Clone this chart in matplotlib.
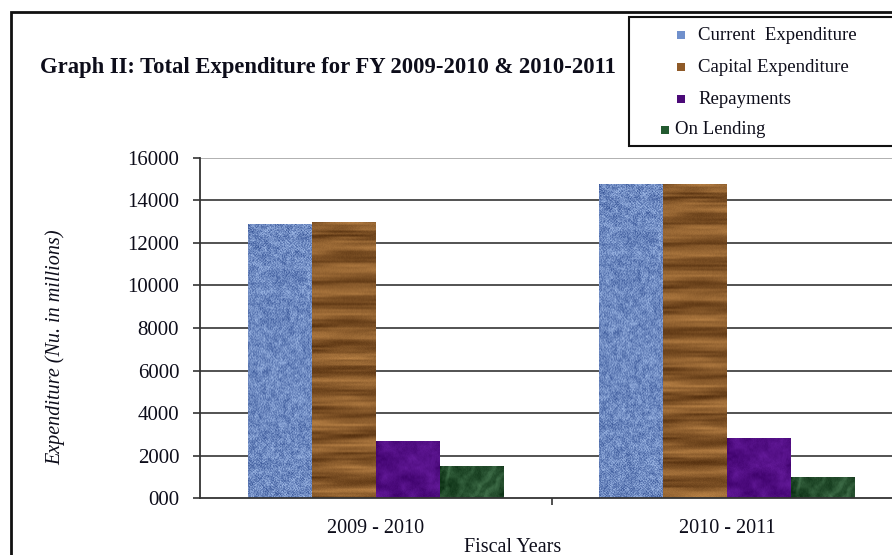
import numpy as np
import matplotlib
matplotlib.use("Agg")
import matplotlib.pyplot as plt
from matplotlib.patches import Rectangle

# data
years = ["2009 - 2010", "2010 - 2011"]
series = ["Current  Expenditure", "Capital Expenditure", "Repayments", "On Lending"]
current_exp = [12900, 14750]
capital_exp = [12980, 14780]
repayments = [2700, 2820]
on_lending = [1500, 1000]
yticks = [0, 2000, 4000, 6000, 8000, 10000, 12000, 14000, 16000]
ytick_labels = ["000", "2000", "4000", "6000", "8000", "10000", "12000", "14000", "16000"]

values = [current_exp, capital_exp, repayments, on_lending]
base_cols = ["#7090cc", "#8f5a28", "#4b0a78", "#235a30"]
dark_cols = [(35, 65, 135), (85, 48, 15), (60, 0, 105), (12, 48, 20)]
light_cols = [(185, 210, 250), (185, 130, 70), (105, 30, 160), (80, 130, 90)]

plt.rcParams["font.family"] = ["Liberation Serif", "DejaVu Serif"]
txt_col = "#0d0d1a"


def hnoise(x, y):
    v = np.sin(x * 12.9898 + y * 78.233) * 43758.5453
    return v - np.floor(v)


def smooth_noise(xx, yy, cell):
    # bilinear value noise
    gx, gy = xx / cell, yy / cell
    x0, y0 = np.floor(gx), np.floor(gy)
    fx, fy = gx - x0, gy - y0
    fx = fx * fx * (3 - 2 * fx)
    fy = fy * fy * (3 - 2 * fy)
    a = hnoise(x0, y0)
    b = hnoise(x0 + 1, y0)
    c = hnoise(x0, y0 + 1)
    d = hnoise(x0 + 1, y0 + 1)
    return (a * (1 - fx) + b * fx) * (1 - fy) + (c * (1 - fx) + d * fx) * fy


def texture(kind, w, h):
    yy, xx = np.mgrid[0:h, 0:w].astype(float)
    n = hnoise(xx, yy)
    if kind == 0:  # burlap weave
        weave = 0.5 + 0.3 * np.sin(xx * 2.1) * np.sin(yy * 2.1)
        t = 0.35 * weave + 0.4 * n + 0.25 * smooth_noise(xx, yy, 4)
    elif kind == 1:  # wood grain, mostly horizontal streaks
        rows = smooth_noise(xx * 0.05, yy, 2.0)
        warp = smooth_noise(xx, yy, 30)
        t = 0.5 + 0.25 * np.sin(yy / 3.5 + 1.5 * warp) + 0.45 * (rows - 0.5) + 0.1 * (n - 0.5)
    else:  # mottled
        t = 0.6 * smooth_noise(xx, yy, 9) + 0.25 * smooth_noise(xx, yy, 3) + 0.15 * n
        if kind == 3:
            streak = np.sin((xx + 0.7 * yy) / 3.0 + 6 * smooth_noise(xx, yy, 12))
            t = t * 0.8 + 0.25 * np.clip(streak, 0, 1) - 0.1
    t = np.clip(t, 0, 1)[..., None]
    d = np.array(dark_cols[kind]) / 255.0
    l = np.array(light_cols[kind]) / 255.0
    return d * (1 - t) + l * t


fig = plt.figure(figsize=(8.92, 5.55), dpi=100)
ax = fig.add_axes([200 / 892, 1 - 498.3 / 555, 703 / 892, 340.6 / 555])

x = np.arange(len(years))
bw = 0.182
for i, vals in enumerate(values):
    pos = x + (i - 1.5) * bw
    bars = ax.bar(pos, vals, width=bw, color=base_cols[i], zorder=3, linewidth=0)
    for b in bars:
        h_px = max(int(b.get_height() / 16000 * 340), 2)
        img = texture(i, 64, h_px)
        im = ax.imshow(img, extent=(b.get_x(), b.get_x() + bw, 0, b.get_height()),
                       aspect="auto", interpolation="bilinear", zorder=4, origin="upper")
        im.set_clip_path(b)

ax.set_xlim(-0.5, 1.5)
ax.set_ylim(0, 16000)
ax.set_yticks(yticks)
ax.set_yticklabels(ytick_labels, fontsize=15, color=txt_col)
ax.set_xticks(x)
ax.set_xticklabels(years, fontsize=14.5, color=txt_col)
ax.set_xticks([0.5], minor=True)
ax.tick_params(axis="x", which="major", length=0, pad=15)
ax.tick_params(axis="x", which="minor", length=5, width=1.2, color="#333333")
ax.tick_params(axis="y", length=5, width=1.2, color="#333333", pad=10)
for yv in yticks[1:]:
    ax.axhline(yv, color="#aaaaaa" if yv == 16000 else "#444444", lw=1.3, zorder=1)
for s in ["top", "right"]:
    ax.spines[s].set_visible(False)
for s in ["left", "bottom"]:
    ax.spines[s].set_color("#333333")
    ax.spines[s].set_linewidth(1.3)
ax.spines["bottom"].set_zorder(5)

# outer border
fig.patches.append(Rectangle((11 / 892, -0.1), 1.2, 1 - 12 / 555 + 0.1, transform=fig.transFigure,
                             fill=False, edgecolor="#111111", lw=2))

fig.text(40 / 892, 1 - 68 / 555, "Graph II: Total Expenditure for FY 2009-2010 & 2010-2011",
         fontsize=16.3, fontweight="bold", va="center", ha="left", color=txt_col)
fig.text(55 / 892, 1 - 347 / 555, "Expenditure (Nu. in millions)", fontsize=14.5, style="italic",
         rotation=90, ha="center", va="center", color=txt_col)
fig.text(513 / 892, 1 - 547 / 555, "Fiscal Years", fontsize=14.5, ha="center", va="center",
         color=txt_col)

# legend box
fig.patches.append(Rectangle((629 / 892, 1 - 146 / 555), 0.4, 129 / 555, transform=fig.transFigure,
                             fill=True, facecolor="white", edgecolor="#111111", lw=1.5, zorder=6))
leg_rows = [35, 67, 99, 130]
mark_x = [677, 677, 677, 661]
text_x = [698, 698, 698, 675]
for i, name in enumerate(series):
    yc = 1 - leg_rows[i] / 555
    fig.patches.append(Rectangle((mark_x[i] / 892, yc - 4 / 555), 8 / 892, 8 / 555,
                                 transform=fig.transFigure, facecolor=base_cols[i],
                                 edgecolor="none", zorder=7))
    fig.text(text_x[i] / 892, yc, name, fontsize=13.5, ha="left", va="center", zorder=8,
             color=txt_col)

fig.savefig("out.png", dpi=100)
